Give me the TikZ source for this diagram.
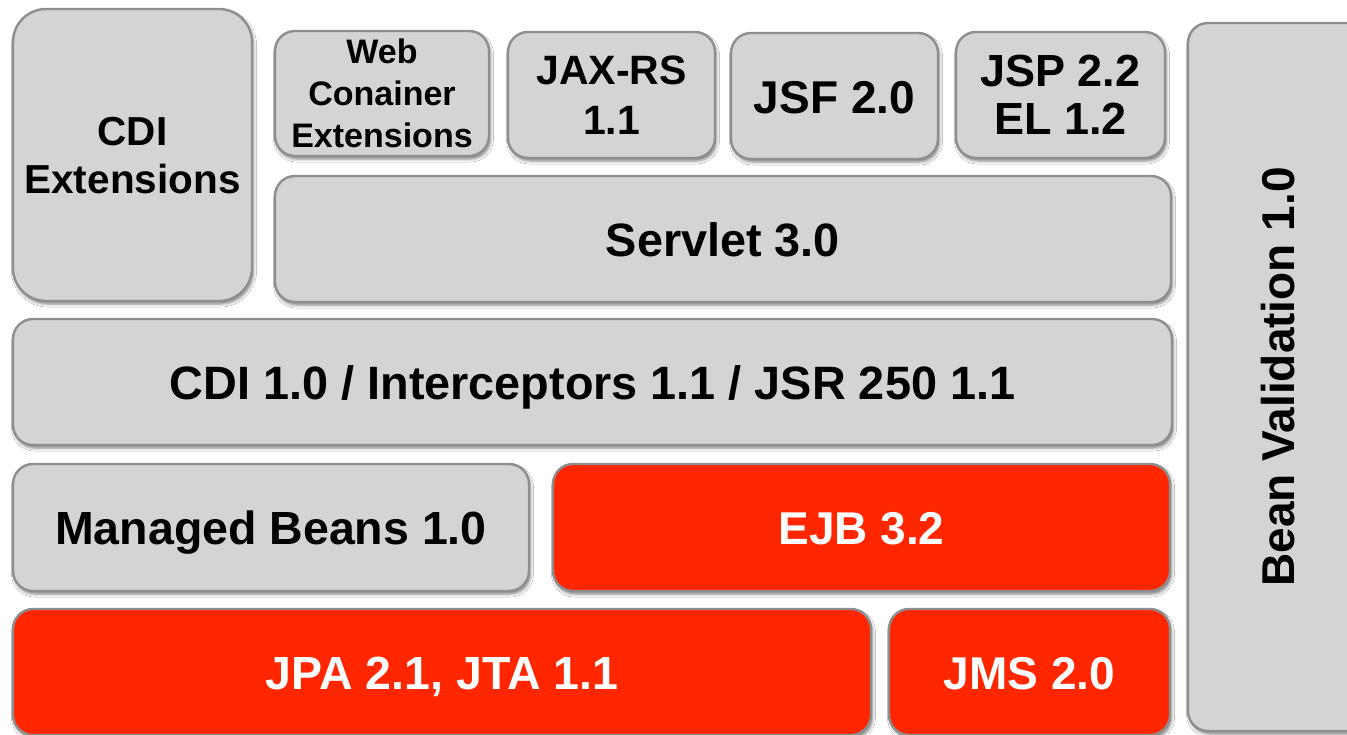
\documentclass[tikz,border=0pt]{standalone}
\usepackage{fontspec}
\setmainfont{Liberation Sans}
\usetikzlibrary{shadows.blur}
\definecolor{boxgray}{HTML}{D4D4D4}
\definecolor{edgegray}{HTML}{8E8E8E}
\definecolor{specred}{HTML}{FF2600}
\tikzset{
  layer/.style={draw=edgegray, line width=2.4pt, rounded corners=20pt,
    fill=boxgray, inner sep=0pt, align=center, text=black,
    font=\bfseries\fontsize{46.8}{52}\selectfont,
    blur shadow={shadow xshift=1.5pt, shadow yshift=-3pt,
      shadow blur radius=3pt, shadow opacity=50}},
  % single-line labels: centre on the capitals, a little below the middle
  oneline/.style={text height=34pt, text depth=-6pt},
  hot/.style={layer, fill=specred, text=white},
  lbl/.style={inner sep=0pt, align=center, font=\bfseries\fontsize{46}{52}\selectfont}
}
\begin{document}
\begin{tikzpicture}[x=1pt, y=-1pt]
\useasboundingbox[fill=white] (0,0) rectangle (1347,734);

% left column and web tier
\node[layer, rounded corners=33pt, minimum width=239pt, minimum height=292pt,
      font=\bfseries\fontsize{40.5}{48}\selectfont, text depth=-10pt]
  (cdiext) at (132.5,155) {CDI\\Extensions};
\node[layer, minimum width=214pt, minimum height=125pt,
      font=\bfseries\fontsize{34}{42}\selectfont]
  (web) at (382,93.5) {Web\\Conainer\\Extensions};
\node[layer, minimum width=207pt, minimum height=126pt,
      font=\bfseries\fontsize{41}{50}\selectfont]
  (jaxrs) at (611.5,95) {JAX-RS\\1.1};
\node[layer, oneline, minimum width=207pt, minimum height=126pt,
      font=\bfseries\fontsize{46}{52}\selectfont]
  (jsf) at (834.5,96) {JSF 2.0};
\node[layer, minimum width=209pt, minimum height=126pt,
      font=\bfseries\fontsize{45}{48}\selectfont]
  (jsp) at (1060.5,95) {JSP 2.2\\EL 1.2};
\node[layer, oneline, minimum width=896pt, minimum height=126pt]
  (servlet) at (723,239) {Servlet 3.0};

% core layers
\node[layer, oneline, minimum width=1159pt, minimum height=126pt]
  (cdi) at (592.5,382) {CDI 1.0 / Interceptors 1.1 / JSR 250 1.1};
\node[layer, oneline, minimum width=516pt, minimum height=127pt,
      font=\bfseries\fontsize{46.5}{52}\selectfont]
  (managed) at (271,527.5) {Managed Beans 1.0};
\node[hot, oneline, minimum width=617pt, minimum height=127pt,
      font=\bfseries\fontsize{46}{52}\selectfont]
  (ejb) at (861.5,527.5) {EJB 3.2};
\node[hot, oneline, minimum width=858pt, minimum height=126pt,
      font=\bfseries\fontsize{46.5}{52}\selectfont]
  (jpa) at (442,672) {JPA 2.1, JTA 1.1};
\node[hot, oneline, minimum width=281pt, minimum height=126pt,
      font=\bfseries\fontsize{46}{52}\selectfont]
  (jms) at (1029.5,672) {JMS 2.0};

% vertical bar on the right
\node[layer, minimum width=180pt, minimum height=708pt]
  (bean) at (1278,377) {};
\node[lbl, rotate=90] (beanlbl) at (bean.center) {Bean Validation 1.0};
\end{tikzpicture}
\end{document}
